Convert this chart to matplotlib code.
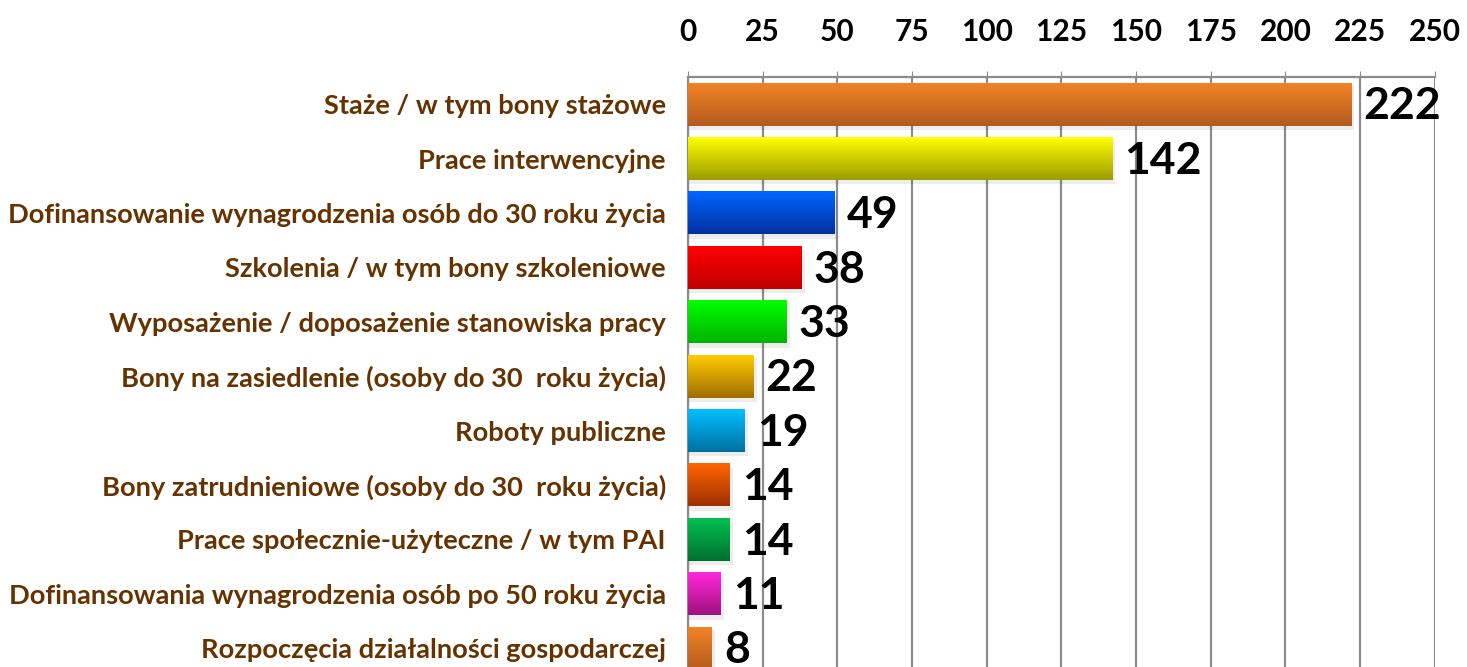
import numpy as np
import matplotlib.pyplot as plt
from matplotlib.colors import LinearSegmentedColormap

categories = [
    "Staże / w tym bony stażowe",
    "Prace interwencyjne",
    "Dofinansowanie wynagrodzenia osób do 30 roku życia",
    "Szkolenia / w tym bony szkoleniowe",
    "Wyposażenie / doposażenie stanowiska pracy",
    "Bony na zasiedlenie (osoby do 30  roku życia)",
    "Roboty publiczne",
    "Bony zatrudnieniowe (osoby do 30  roku życia)",
    "Prace społecznie-użyteczne / w tym PAI",
    "Dofinansowania wynagrodzenia osób po 50 roku życia",
    "Rozpoczęcia działalności gospodarczej",
]
values = [222, 142, 49, 38, 33, 22, 19, 14, 14, 11, 8]
top_colors = ["#F28426", "#FFFF00", "#0066FF", "#FF0000", "#00FF00", "#FFCC00",
              "#00BFFF", "#FF6600", "#00C050", "#FF28DC", "#F28426"]
bottom_colors = ["#B45A1E", "#9C9C00", "#0030A0", "#C00000", "#00B400", "#A06E00",
                 "#0070A0", "#A03000", "#00702E", "#A01080", "#B45A1E"]
ticks = list(range(0, 251, 25))

plt.rcParams['font.family'] = ['Lato', 'DejaVu Sans']

fig = plt.figure(figsize=(14.67, 6.67), dpi=100)
ax = fig.add_axes([0.469, -0.0126, 0.509, 0.8972])

n = len(categories)
h = 0.79

for i, (v, c1, c2) in enumerate(zip(values, top_colors, bottom_colors)):
    # soft shadow below-right
    ax.barh(i + 0.08, v + 1.0, height=h, color="#000000", alpha=0.07, zorder=2, linewidth=0)
    cmap = LinearSegmentedColormap.from_list("g%d" % i, [c1, c2])
    grad = np.linspace(0, 1, 64).reshape(-1, 1)
    ax.imshow(grad, cmap=cmap, aspect="auto", zorder=3,
              extent=(0, v, i + h / 2, i - h / 2), interpolation="bilinear")
    ax.text(v + 4, i + 0.04, str(v), va="center", ha="left", fontsize=32,
            fontweight="bold", color="black", zorder=4)

ax.set_xlim(0, 250)
ax.set_ylim(n - 0.5, -0.5)
ax.set_xticks(ticks)
ax.xaxis.tick_top()
ax.set_xticklabels([str(t) for t in ticks], fontsize=21.5, fontweight="bold")
ax.tick_params(axis="x", length=4, color="#8c8c8c", pad=18)
ax.set_yticks(range(n))
ax.set_yticklabels(categories, fontsize=19.6, fontweight="bold", color="#663300")
ax.tick_params(axis="y", length=0, pad=16)
ax.grid(axis="x", color="#8c8c8c", linewidth=1.6, zorder=0)
ax.set_axisbelow(True)
for s in ["bottom", "right"]:
    ax.spines[s].set_visible(False)
for s in ["top", "left"]:
    ax.spines[s].set_color("#8c8c8c")
    ax.spines[s].set_linewidth(1.6)

fig.savefig("out.png", dpi=100)
